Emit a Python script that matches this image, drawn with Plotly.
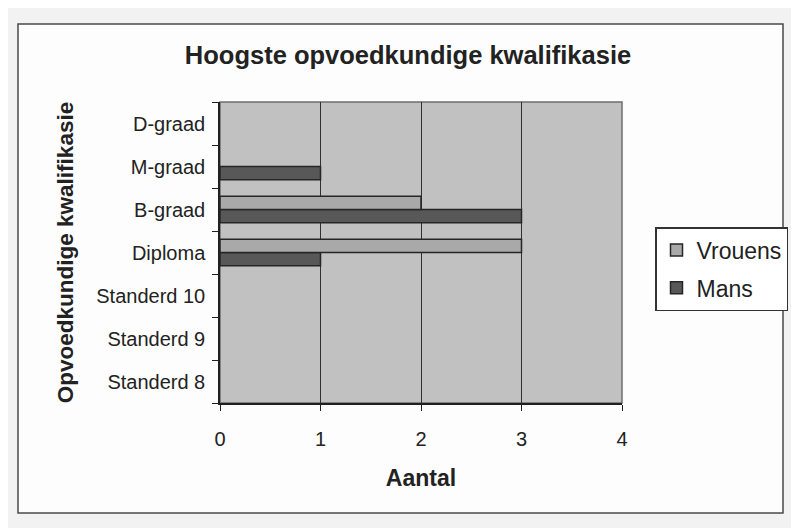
import plotly.graph_objects as go

categories = ["Standerd 8", "Standerd 9", "Standerd 10", "Diploma", "B-graad", "M-graad", "D-graad"]
vrouens = [0, 0, 0, 3, 2, 0, 0]
mans = [0, 0, 0, 1, 3, 1, 0]
x_ticks = [0, 1, 2, 3, 4]

FONT = "Liberation Sans, Arial, sans-serif"
OFF = 8  # page body margin offset


def nz(vals):
    return [v if v else None for v in vals]


fig = go.Figure()
fig.add_trace(go.Bar(
    y=categories, x=nz(mans), name="Mans", orientation="h",
    marker=dict(color="#585858", line=dict(color="#262626", width=1.5)),
    legendgroup="m", legendrank=2,
))
fig.add_trace(go.Bar(
    y=categories, x=nz(vrouens), name="Vrouens", orientation="h",
    marker=dict(color="#a9a9a9", line=dict(color="#262626", width=1.5)),
    legendgroup="v", legendrank=1,
))

W, H = 799, 528
# plot area in screen coords
SX0, SX1, SY0, SY1 = 220, 622, 102, 403
L = SX0 - OFF
R = W - (SX1 - OFF)
T = SY0 - OFF
B = H - (SY1 - OFF)
pw = W - L - R
ph = H - T - B


def px(x):
    return (x - SX0) / pw


def py(y):
    return (SY1 - y) / ph


# chart frame
fig.add_shape(type="rect", xref="paper", yref="paper",
              x0=px(18), x1=px(783), y0=py(513), y1=py(24),
              line=dict(color="#4a4a4a", width=1.5), fillcolor="#fdfdfd", layer="below")
# plot area background
fig.add_shape(type="rect", xref="paper", yref="paper",
              x0=0, x1=1, y0=0, y1=1,
              line=dict(color="#6e6e6e", width=1.5), fillcolor="#c1c1c1", layer="below")

fig.update_layout(
    width=W, height=H,
    margin=dict(l=L, r=R, t=T, b=B),
    paper_bgcolor="#f2f2f2",
    plot_bgcolor="rgba(0,0,0,0)",
    barmode="group",
    bargap=0.38,
    bargroupgap=0,
    font=dict(family=FONT, color="#222222"),
    title=dict(text="<b>Hoogste opvoedkundige kwalifikasie</b>",
               x=(408 - OFF) / W, xanchor="center", y=1 - (55 - OFF) / H, yanchor="middle",
               font=dict(size=25.5, family=FONT, color="#222222")),
    xaxis=dict(
        range=[0, 4], tickvals=x_ticks, ticktext=[str(t) for t in x_ticks],
        showgrid=True, gridcolor="#303030", gridwidth=1,
        showline=True, linecolor="#202020", linewidth=1.5,
        ticks="outside", ticklen=6, tickcolor="#202020",
        tickfont=dict(size=20), ticklabelstandoff=11,
        zeroline=False, automargin=False,
        title=dict(text="<b>Aantal</b>", font=dict(size=23), standoff=21),
    ),
    yaxis=dict(
        type="category", categoryorder="array", categoryarray=categories,
        tickson="boundaries", ticks="outside", ticklen=6, tickcolor="#202020",
        showline=True, linecolor="#202020", linewidth=1.5,
        showgrid=False, automargin=False,
        tickfont=dict(size=20), ticklabelstandoff=9,
        title=dict(text="<b>Opvoedkundige kwalifikasie</b>", font=dict(size=22.5), standoff=16),
    ),
    legend=dict(
        x=px(655), xanchor="left", y=py(227), yanchor="top",
        bgcolor="#ffffff", bordercolor="#333333", borderwidth=1.5,
        font=dict(size=23), traceorder="grouped", tracegroupgap=5,
    ),
)

fig.write_html("out.html")
